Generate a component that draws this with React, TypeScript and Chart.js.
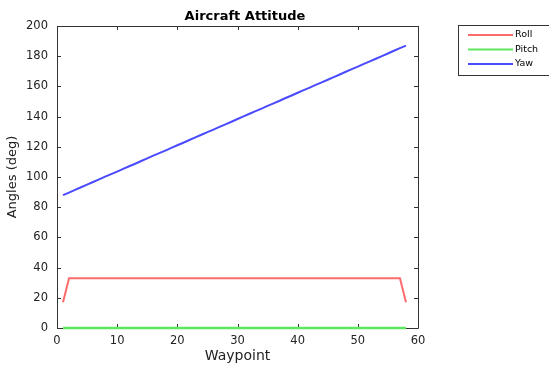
import React, { useEffect, useRef } from "react";
import { Chart, registerables } from "chart.js";

Chart.register(...registerables);

const waypoints: number[] = [
  1, 2, 3, 4, 5, 6, 7, 8, 9, 10, 11, 12, 13, 14, 15, 16, 17, 18, 19, 20,
  21, 22, 23, 24, 25, 26, 27, 28, 29, 30, 31, 32, 33, 34, 35, 36, 37, 38, 39, 40,
  41, 42, 43, 44, 45, 46, 47, 48, 49, 50, 51, 52, 53, 54, 55, 56, 57, 58,
];

const roll: number[] = [
  17, 33, 33, 33, 33, 33, 33, 33, 33, 33, 33, 33, 33, 33, 33, 33, 33, 33, 33, 33,
  33, 33, 33, 33, 33, 33, 33, 33, 33, 33, 33, 33, 33, 33, 33, 33, 33, 33, 33, 33,
  33, 33, 33, 33, 33, 33, 33, 33, 33, 33, 33, 33, 33, 33, 33, 33, 33, 17,
];

const pitch: number[] = [
  0, 0, 0, 0, 0, 0, 0, 0, 0, 0, 0, 0, 0, 0, 0, 0, 0, 0, 0, 0,
  0, 0, 0, 0, 0, 0, 0, 0, 0, 0, 0, 0, 0, 0, 0, 0, 0, 0, 0, 0,
  0, 0, 0, 0, 0, 0, 0, 0, 0, 0, 0, 0, 0, 0, 0, 0, 0, 0,
];

const yaw: number[] = [
  88.0, 89.7, 91.5, 93.2, 94.9, 96.7, 98.4, 100.2, 101.9, 103.6,
  105.4, 107.1, 108.8, 110.6, 112.3, 114.1, 115.8, 117.5, 119.3, 121.0,
  122.7, 124.5, 126.2, 128.0, 129.7, 131.4, 133.2, 134.9, 136.6, 138.4,
  140.1, 141.9, 143.6, 145.3, 147.1, 148.8, 150.5, 152.3, 154.0, 155.8,
  157.5, 159.2, 161.0, 162.7, 164.4, 166.2, 167.9, 169.7, 171.4, 173.1,
  174.9, 176.6, 178.3, 180.1, 181.8, 183.6, 185.3, 187.0,
];

const seriesNames: string[] = ["Roll", "Pitch", "Yaw"];
const seriesColors: string[] = ["#ff6b6b", "#5ee65e", "#4a4aff"];

const xTicks: number[] = [0, 10, 20, 30, 40, 50, 60];
const yTicks: number[] = [0, 20, 40, 60, 80, 100, 120, 140, 160, 180, 200];

const chartTitle = "Aircraft Attitude";
const xTitle = "Waypoint";
const yTitle = "Angles (deg)";

const FONT = "'DejaVu Sans', 'Liberation Sans', Arial, sans-serif";

const framePlugin = {
  id: "frameAndTicks",
  beforeDatasetsDraw(chart: any) {
    const { ctx, chartArea } = chart;
    const { left, right, top, bottom } = chartArea;
    const xs = chart.scales.x;
    const ys = chart.scales.y;
    ctx.save();
    ctx.strokeStyle = "#333";
    ctx.lineWidth = 1;
    ctx.beginPath();
    ctx.rect(left + 0.5, top + 0.5, right - left, bottom - top);
    ctx.stroke();
    ctx.beginPath();
    const tl = 4;
    xTicks.forEach((v) => {
      const px = Math.round(xs.getPixelForValue(v)) + 0.5;
      ctx.moveTo(px, bottom);
      ctx.lineTo(px, bottom - tl);
      ctx.moveTo(px, top);
      ctx.lineTo(px, top + tl);
    });
    yTicks.forEach((v) => {
      const py = Math.round(ys.getPixelForValue(v)) + 0.5;
      ctx.moveTo(left, py);
      ctx.lineTo(left + tl, py);
      ctx.moveTo(right, py);
      ctx.lineTo(right - tl, py);
    });
    ctx.stroke();
    ctx.restore();
  },
  afterDraw(chart: any) {
    const { ctx, chartArea } = chart;
    ctx.save();
    // title
    ctx.fillStyle = "#000";
    ctx.font = `bold 13px ${FONT}`;
    ctx.textAlign = "center";
    ctx.textBaseline = "middle";
    ctx.fillText(chartTitle, 245, chartArea.top - 9);
    // legend
    const bx = 458.5, by = 25.5, bw = 92, bh = 50;
    ctx.fillStyle = "#fff";
    ctx.fillRect(bx, by, bw, bh);
    ctx.strokeStyle = "#333";
    ctx.lineWidth = 1;
    ctx.strokeRect(bx, by, bw, bh);
    const rowsY = [35, 49.5, 64];
    ctx.font = `9.5px ${FONT}`;
    ctx.textAlign = "left";
    chart.data.datasets.forEach((ds: any, i: number) => {
      ctx.strokeStyle = ds.borderColor;
      ctx.lineWidth = 2;
      ctx.beginPath();
      ctx.moveTo(468, rowsY[i]);
      ctx.lineTo(513, rowsY[i]);
      ctx.stroke();
      ctx.fillStyle = "#000";
      ctx.fillText(ds.label, 515, rowsY[i]);
    });
    ctx.restore();
  },
};

export default function App() {
  const canvasRef = useRef<HTMLCanvasElement | null>(null);

  useEffect(() => {
    document.body.style.margin = "0";
    const canvas = canvasRef.current;
    if (!canvas) return;
    const allSeries = [roll, pitch, yaw];
    const chart = new Chart(canvas, {
      type: "line",
      data: {
        datasets: allSeries.map((vals, i) => ({
          label: seriesNames[i],
          data: waypoints.map((w, j) => ({ x: w, y: vals[j] })),
          borderColor: seriesColors[i],
          backgroundColor: seriesColors[i],
          borderWidth: i === 1 ? 2.5 : 2,
          pointRadius: 0,
          tension: 0,
          fill: false,
          clip: i === 1 ? false : undefined,
        })),
      },
      options: {
        animation: false,
        responsive: false,
        maintainAspectRatio: false,
        events: [],
        layout: { padding: { top: 26, right: 131, left: 0, bottom: 0 } },
        plugins: {
          legend: { display: false },
          title: { display: false },
          tooltip: { enabled: false },
        },
        scales: {
          x: {
            type: "linear",
            min: 0,
            max: 60,
            grid: { display: false, drawTicks: false },
            border: { display: false },
            ticks: {
              stepSize: 10,
              padding: 6,
              color: "#222",
              font: { family: FONT, size: 11.5 },
              maxRotation: 0,
            },
            title: {
              display: true,
              text: xTitle,
              color: "#222",
              font: { family: FONT, size: 14 },
              padding: { top: 0, bottom: 2 },
            },
            afterFit(scale: any) {
              scale.height = 39;
            },
          },
          y: {
            type: "linear",
            min: 0,
            max: 200,
            grid: { display: false, drawTicks: false },
            border: { display: false },
            ticks: {
              stepSize: 20,
              padding: 9,
              color: "#222",
              font: { family: FONT, size: 11.5 },
            },
            title: {
              display: true,
              text: yTitle,
              color: "#222",
              font: { family: FONT, size: 13 },
              padding: { top: 5, bottom: 0 },
            },
            afterFit(scale: any) {
              scale.width = 57;
            },
          },
        },
      },
      plugins: [framePlugin],
    });
    return () => chart.destroy();
  }, []);

  return (
    <div style={{ position: "fixed", left: 0, top: 0, width: 549, height: 367, background: "#fff" }}>
      <canvas ref={canvasRef} width={549} height={367} style={{ width: 549, height: 367 }} />
    </div>
  );
}
